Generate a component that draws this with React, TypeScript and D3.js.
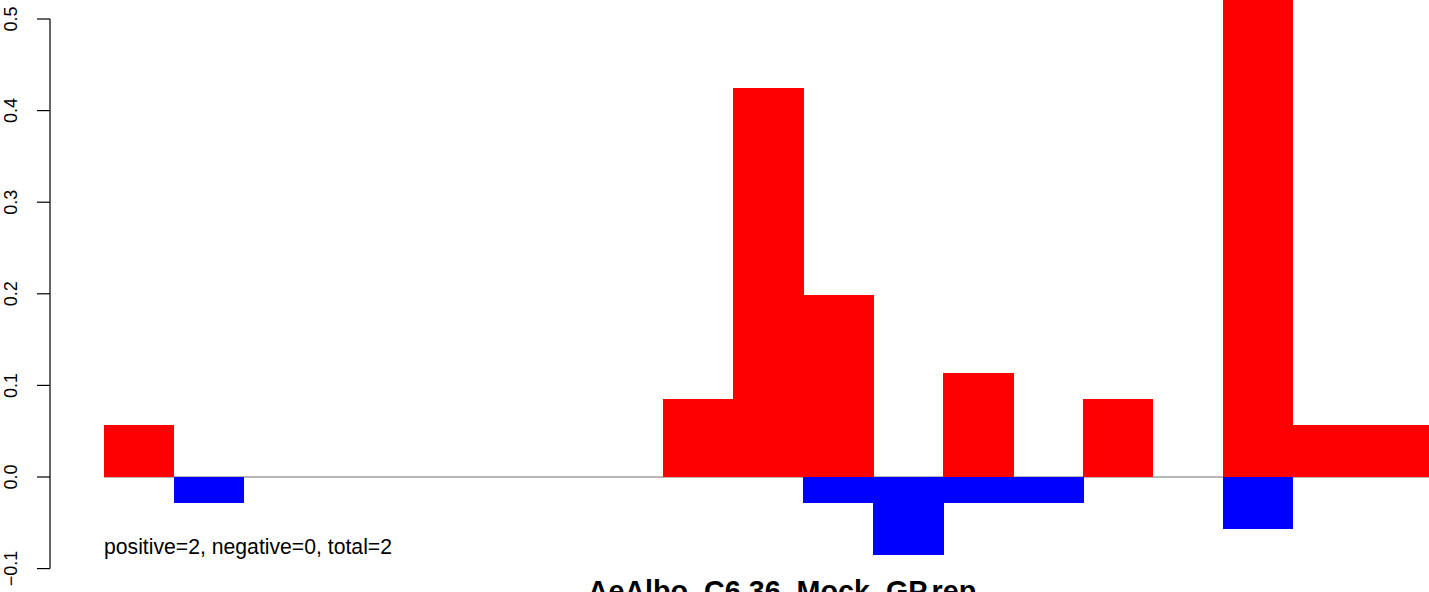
import React from "react";
import * as d3 from "d3";

const bins = d3.range(19);
const positiveValues = [0.0567, 0, 0, 0, 0, 0, 0, 0, 0.085, 0.425, 0.1984, 0, 0.1134, 0, 0.085, 0, 0.6, 0.0567, 0.0567];
const negativeValues = [0, -0.0283, 0, 0, 0, 0, 0, 0, 0, 0, -0.0283, -0.085, -0.0283, -0.0283, 0, 0, -0.0567, 0, 0];
const yTicks = [-0.1, 0.0, 0.1, 0.2, 0.3, 0.4, 0.5];
const title = "AeAlbo_C6.36_Mock_GP.rep";
const note = "positive=2, negative=0, total=2";

const W = 1429;
const H = 592;

export default function App() {
  const x = d3.scaleLinear().domain([0, 19]).range([104, 104 + 19 * 69.93]);
  const y = d3.scaleLinear().domain([-0.1, 0.5]).range([568.6, 19]);
  const font = "'Liberation Sans', Arial, Helvetica, sans-serif";

  return (
    <svg
      width={W}
      height={H}
      style={{ position: "fixed", left: 0, top: 0, background: "#fff" }}
      fontFamily={font}
    >
      {/* baseline */}
      <line x1={x(0)} x2={W + 10} y1={y(0)} y2={y(0)} stroke="#707070" strokeWidth={1.2} />
      {/* positive bars */}
      {bins.map((b) =>
        positiveValues[b] > 0 ? (
          <rect
            key={"p" + b}
            x={x(b)}
            width={x(b + 1) - x(b) + 0.5}
            y={y(positiveValues[b])}
            height={y(0) - y(positiveValues[b])}
            fill="#ff0000"
            shapeRendering="crispEdges"
          />
        ) : null
      )}
      {/* negative bars */}
      {bins.map((b) =>
        negativeValues[b] < 0 ? (
          <rect
            key={"n" + b}
            x={x(b)}
            width={x(b + 1) - x(b) + 0.5}
            y={y(0)}
            height={y(negativeValues[b]) - y(0)}
            fill="#0000ff"
            shapeRendering="crispEdges"
          />
        ) : null
      )}
      {/* y axis */}
      <line x1={50} x2={50} y1={y(0.5)} y2={y(-0.1)} stroke="#000" strokeWidth={1.2} />
      {yTicks.map((t) => (
        <g key={t}>
          <line x1={37} x2={50} y1={y(t)} y2={y(t)} stroke="#000" strokeWidth={1.2} />
          <text
            transform={`translate(17,${y(t)}) rotate(-90)`}
            textAnchor="middle"
            fontSize={18}
            fill="#000"
          >
            {t === 0 ? "0.0" : d3.format(".1f")(t).replace("-", "\u2212")}
          </text>
        </g>
      ))}
      <text x={104} y={554} fontSize={21.2} fill="#000">
        {note}
      </text>
      <text x={782} y={601} fontSize={28.7} fontWeight="bold" textAnchor="middle" fill="#000">
        {title}
      </text>
    </svg>
  );
}
